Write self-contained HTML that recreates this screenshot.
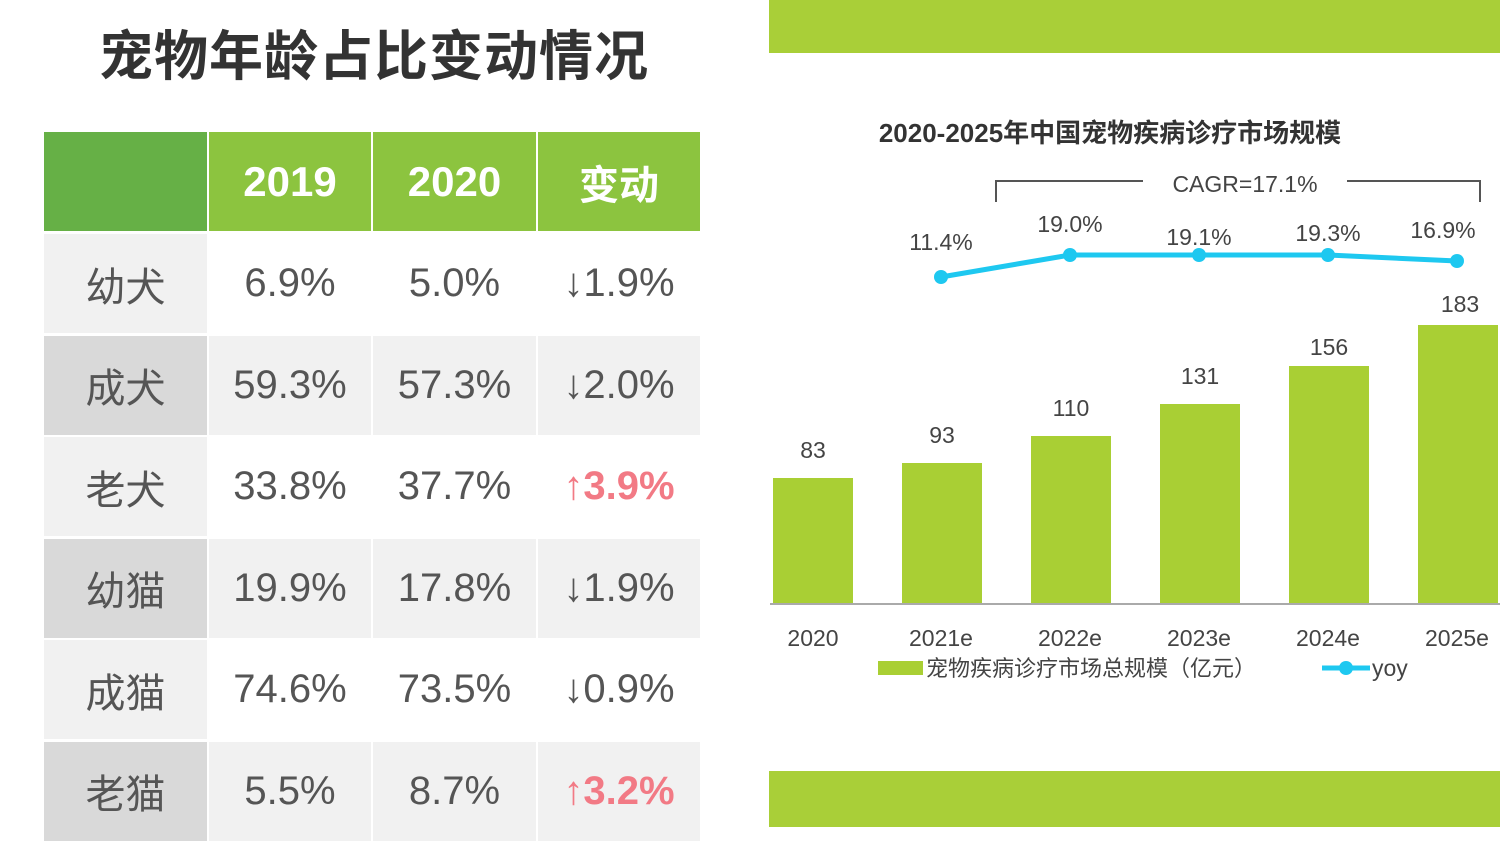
<!DOCTYPE html>
<html><head><meta charset="utf-8"><style>
body{margin:0;width:1500px;height:827px;background:#fff;overflow:hidden;position:relative;font-family:"Liberation Sans","Noto Sans CJK SC",sans-serif}
.t{position:absolute;display:flex;align-items:center;justify-content:center;color:#555;font-size:40px}
</style></head><body>
<div style="position:absolute;left:44px;top:12px;width:660px;text-align:center;font-size:54px;font-weight:bold;color:#333;font-family:'Noto Sans CJK SC',sans-serif;letter-spacing:1px">宠物年龄占比变动情况</div>
<div class="t" style="left:44px;top:132px;width:163px;height:99px;background:#66b046"></div>
<div class="t" style="left:209px;top:132px;width:162px;height:99px;background:#8cc43f;color:#fff;font-weight:bold;font-size:42px">2019</div>
<div class="t" style="left:373px;top:132px;width:163px;height:99px;background:#8cc43f;color:#fff;font-weight:bold;font-size:42px">2020</div>
<div class="t" style="left:538px;top:132px;width:162px;height:99px;background:#8cc43f;color:#fff;font-weight:bold;font-size:40px;font-family:'Noto Sans CJK SC',sans-serif">变动</div>
<div id="rows"></div>
<script>
var d=[["幼犬","6.9%","5.0%","↓1.9%",0],["成犬","59.3%","57.3%","↓2.0%",0],["老犬","33.8%","37.7%","↑3.9%",1],["幼猫","19.9%","17.8%","↓1.9%",0],["成猫","74.6%","73.5%","↓0.9%",0],["老猫","5.5%","8.7%","↑3.2%",1]];
var h="";var xs=[[44,163],[209,162],[373,163],[538,162]];
d.forEach(function(r,i){var y=234+i*101.5;var odd=i%2==0;
for(var c=0;c<4;c++){var bg=c==0?(odd?"#f1f1f1":"#d9d9d9"):(odd?"#fff":"#f1f1f1");
var col=(c==3&&r[4])?"color:#f27a85;font-weight:bold;":"";
h+='<div class="t" style="left:'+xs[c][0]+'px;top:'+y+'px;width:'+xs[c][1]+'px;height:99px;background:'+bg+';'+col+'">'+r[c]+'</div>';}});
document.getElementById("rows").innerHTML=h;
</script>
<div style="position:absolute;left:769px;top:0;width:731px;height:53px;background:#a9cf38"></div>
<div style="position:absolute;left:769px;top:771px;width:731px;height:56px;background:#a9cf38"></div>
<svg style="position:absolute;left:0;top:0" width="1500" height="827" font-family="Liberation Sans, Noto Sans CJK SC, sans-serif">
<text x="1110" y="142" text-anchor="middle" font-size="26" font-weight="bold" fill="#333">2020-2025年中国宠物疾病诊疗市场规模</text>
<path d="M996 202V181H1143M1347 181H1480V202" stroke="#555" stroke-width="2" fill="none"/>
<text x="1245" y="192" text-anchor="middle" font-size="23" fill="#444">CAGR=17.1%</text>
<g fill="#a9cf34">
<rect x="773" y="478" width="80" height="126"/><rect x="902" y="463" width="80" height="141"/><rect x="1031" y="436" width="80" height="168"/><rect x="1160" y="404" width="80" height="200"/><rect x="1289" y="366" width="80" height="238"/><rect x="1418" y="325" width="80" height="279"/></g>
<line x1="770" y1="604" x2="1500" y2="604" stroke="#aaa" stroke-width="2"/>
<g font-size="23" fill="#444" text-anchor="middle">
<text x="813" y="458">83</text><text x="942" y="443">93</text><text x="1071" y="416">110</text><text x="1200" y="384">131</text><text x="1329" y="355">156</text><text x="1460" y="312">183</text>
<text x="941" y="250">11.4%</text><text x="1070" y="232">19.0%</text><text x="1199" y="245">19.1%</text><text x="1328" y="241">19.3%</text><text x="1443" y="238">16.9%</text>
<text x="813" y="646">2020</text><text x="941" y="646">2021e</text><text x="1070" y="646">2022e</text><text x="1199" y="646">2023e</text><text x="1328" y="646">2024e</text><text x="1457" y="646">2025e</text>
</g>
<polyline points="941,277 1070,255 1199,255 1328,255 1457,261" stroke="#1ec8f0" stroke-width="5" fill="none"/>
<g fill="#1ec8f0"><circle cx="941" cy="277" r="7"/><circle cx="1070" cy="255" r="7"/><circle cx="1199" cy="255" r="7"/><circle cx="1328" cy="255" r="7"/><circle cx="1457" cy="261" r="7"/></g>
<rect x="878" y="661" width="45" height="14" fill="#a9cf34"/>
<text x="926" y="676" font-size="22" fill="#444">宠物疾病诊疗市场总规模（亿元）</text>
<line x1="1322" y1="668" x2="1370" y2="668" stroke="#1ec8f0" stroke-width="5"/><circle cx="1346" cy="668" r="7" fill="#1ec8f0"/>
<text x="1372" y="676" font-size="23" fill="#444">yoy</text>
</svg>
</body></html>
